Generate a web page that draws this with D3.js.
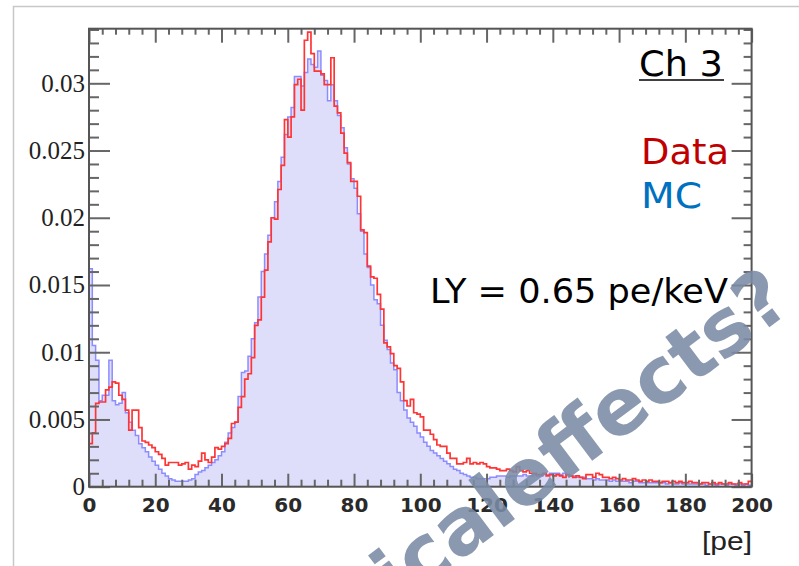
<!DOCTYPE html>
<html>
<head>
<meta charset="utf-8">
<script src="https://cdn.jsdelivr.net/npm/d3@7/dist/d3.min.js"></script>
<style>
body { margin: 0; background: #fff; }
</style>
</head>
<body>
<script>
// 1 pe wide bins from 0 to 200 pe
const dataValues = [
  0.0032,0.0040,0.0062,0.0063,0.0063,0.0072,0.0074,0.0078,0.0077,0.0068,
  0.0065,0.0057,0.0042,0.0057,0.0057,0.0044,0.0034,0.0033,0.0031,0.0029,
  0.0026,0.0024,0.0021,0.0016,0.0018,0.0018,0.0018,0.0016,0.0017,0.0018,
  0.0013,0.0016,0.0015,0.0019,0.0025,0.0020,0.0018,0.0022,0.0029,0.0028,
  0.0030,0.0032,0.0036,0.0047,0.0048,0.0059,0.0067,0.0080,0.0084,0.0096,
  0.0120,0.0124,0.0141,0.0161,0.0182,0.0200,0.0199,0.0221,0.0239,0.0273,
  0.0260,0.0275,0.0299,0.0303,0.0280,0.0332,0.0338,0.0322,0.0309,0.0309,
  0.0307,0.0299,0.0299,0.0319,0.0283,0.0278,0.0263,0.0248,0.0241,0.0227,
  0.0227,0.0216,0.0191,0.0189,0.0164,0.0156,0.0155,0.0143,0.0132,0.0107,
  0.0104,0.0099,0.0090,0.0088,0.0078,0.0064,0.0060,0.0065,0.0055,0.0054,
  0.0052,0.0042,0.0042,0.0039,0.0035,0.0031,0.0030,0.0030,0.0025,0.0021,
  0.0021,0.0017,0.0017,0.0018,0.0021,0.0017,0.0018,0.0017,0.0018,0.0017,
  0.0015,0.0014,0.0014,0.0013,0.0012,0.0012,0.0013,0.0012,0.0011,0.0015,
  0.0012,0.0011,0.0012,0.0010,0.0010,0.0009,0.0009,0.0010,0.0008,0.0009,
  0.0008,0.0009,0.0008,0.0007,0.0009,0.0008,0.0007,0.0008,0.0007,0.0006,
  0.0009,0.0009,0.0007,0.0010,0.0009,0.0007,0.0007,0.0006,0.0007,0.0006,
  0.0005,0.0006,0.0005,0.0005,0.0006,0.0005,0.0004,0.0005,0.0004,0.0005,
  0.0004,0.0004,0.0003,0.0004,0.0004,0.0003,0.0004,0.0003,0.0004,0.0003,
  0.0003,0.0004,0.0003,0.0003,0.0002,0.0003,0.0003,0.0002,0.0003,0.0002,
  0.0003,0.0002,0.0002,0.0003,0.0002,0.0002,0.0003,0.0002,0.0002,0.0004
];

const mcValues = [
  0.0162,0.0105,0.0094,0.0064,0.0068,0.0068,0.0094,0.0064,0.0061,0.0062,
  0.0070,0.0055,0.0048,0.0042,0.0038,0.0032,0.0029,0.0026,0.0022,0.0019,
  0.0016,0.0013,0.0010,0.0008,0.0006,0.0005,0.0004,0.0004,0.0004,0.0004,
  0.0005,0.0006,0.0009,0.0011,0.0012,0.0014,0.0016,0.0018,0.0020,0.0023,
  0.0026,0.0033,0.0040,0.0044,0.0048,0.0067,0.0085,0.0086,0.0097,0.0110,
  0.0122,0.0141,0.0160,0.0173,0.0187,0.0200,0.0212,0.0227,0.0245,0.0262,
  0.0275,0.0282,0.0305,0.0305,0.0298,0.0308,0.0318,0.0314,0.0312,0.0324,
  0.0306,0.0302,0.0287,0.0299,0.0287,0.0276,0.0267,0.0252,0.0240,0.0229,
  0.0222,0.0203,0.0190,0.0173,0.0163,0.0150,0.0139,0.0136,0.0120,0.0109,
  0.0102,0.0092,0.0087,0.0070,0.0064,0.0057,0.0051,0.0048,0.0045,0.0040,
  0.0037,0.0033,0.0030,0.0027,0.0025,0.0023,0.0021,0.0019,0.0017,0.0015,
  0.0013,0.0012,0.0010,0.0009,0.0008,0.0007,0.0007,0.0006,0.0006,0.0006,
  0.0006,0.0007,0.0007,0.0008,0.0008,0.0008,0.0007,0.0008,0.0008,0.0008,
  0.0008,0.0009,0.0008,0.0008,0.0009,0.0008,0.0008,0.0009,0.0009,0.0010,
  0.0010,0.0010,0.0009,0.0010,0.0009,0.0008,0.0008,0.0007,0.0007,0.0007,
  0.0006,0.0006,0.0005,0.0006,0.0005,0.0005,0.0005,0.0004,0.0005,0.0004,
  0.0004,0.0004,0.0004,0.0003,0.0004,0.0004,0.0003,0.0003,0.0003,0.0003,
  0.0003,0.0003,0.0003,0.0003,0.0002,0.0003,0.0002,0.0002,0.0003,0.0002,
  0.0002,0.0002,0.0002,0.0002,0.0002,0.0002,0.0001,0.0002,0.0002,0.0001,
  0.0002,0.0002,0.0001,0.0002,0.0002,0.0001,0.0002,0.0001,0.0002,0.0001
];

const xTicks = [0, 20, 40, 60, 80, 100, 120, 140, 160, 180, 200];
const yTicks = [0, 0.005, 0.01, 0.015, 0.02, 0.025, 0.03];
const yTickLabels = ['0', '0.005', '0.01', '0.015', '0.02', '0.025', '0.03'];

const svgValues = {
    width: 799,
    height: 566,
    plot: { left: 89, right: 751.6, top: 28.7, bottom: 486.7 }
};

const svg = d3.select('body')
    .append('svg')
    .attr('width', svgValues.width)
    .attr('height', svgValues.height);

// slide frame lines
svg.append('path')
    .attr('d', 'M13.5,566 V6.5 H799')
    .attr('fill', 'none')
    .attr('stroke', '#c8c8c8')
    .attr('stroke-width', 1.5);

const p = svgValues.plot;

const xScale = d3.scaleLinear().domain([0, 200]).range([p.left, p.right]);
const yScale = d3.scaleLinear().domain([0, 0.03406]).range([p.bottom, p.top]);

function stepPoints(values) {
    const pts = values.map((v, i) => [i, v]);
    pts.push([values.length, values[values.length - 1]]);
    return pts;
}

const mcArea = d3.area()
    .x(d => xScale(d[0]))
    .y0(yScale(0))
    .y1(d => yScale(d[1]))
    .curve(d3.curveStepAfter);

const stepLine = d3.line()
    .x(d => xScale(d[0]))
    .y(d => yScale(d[1]))
    .curve(d3.curveStepAfter);

svg.append('path') // MC fill
    .attr('d', mcArea(stepPoints(mcValues)))
    .attr('fill', '#dedefa');

svg.append('path') // MC outline
    .attr('d', stepLine(stepPoints(mcValues)))
    .attr('fill', 'none')
    .attr('stroke', '#8c8cff')
    .attr('stroke-width', 1.5);

svg.append('path') // data
    .attr('d', stepLine(stepPoints(dataValues)))
    .attr('fill', 'none')
    .attr('stroke', '#ff3535')
    .attr('stroke-width', 1.7);

// axes, ticks inside the frame like ROOT
const xMinor = d3.range(0, 201, 4).filter(d => d % 20 !== 0);
const yMinor = d3.range(0, 35).map(i => i / 1000).filter(d => Math.round(d * 1000) % 5 !== 0);

function styleAxis(g) {
    g.select('.domain').remove();
    g.selectAll('line').attr('stroke', '#666').attr('stroke-width', 2);
}

svg.append('g')
    .attr('transform', 'translate(0,' + p.bottom + ')')
    .call(d3.axisBottom(xScale).tickValues(xTicks).tickSize(-13).tickPadding(11))
    .call(styleAxis)
    .selectAll('text')
    .attr('font-family', 'DejaVu Sans')
    .attr('font-weight', 'bold')
    .attr('font-size', 20)
    .attr('fill', '#2a2a2a');

svg.append('g')
    .attr('transform', 'translate(0,' + p.bottom + ')')
    .call(d3.axisBottom(xScale).tickValues(xMinor).tickSize(-7).tickFormat(''))
    .call(styleAxis);

svg.append('g')
    .attr('transform', 'translate(0,' + p.top + ')')
    .call(d3.axisTop(xScale).tickValues(xTicks).tickSize(-14).tickFormat(''))
    .call(styleAxis);

svg.append('g')
    .attr('transform', 'translate(0,' + p.top + ')')
    .call(d3.axisTop(xScale).tickValues(xMinor).tickSize(-6).tickFormat(''))
    .call(styleAxis);

svg.append('g')
    .attr('transform', 'translate(' + p.left + ',0)')
    .call(d3.axisLeft(yScale).tickValues(yTicks).tickSize(-21).tickPadding(4)
        .tickFormat((d, i) => yTickLabels[i]))
    .call(styleAxis)
    .selectAll('text')
    .attr('font-family', 'Liberation Serif')
    .attr('font-size', 25)
    .attr('fill', '#222');

svg.append('g')
    .attr('transform', 'translate(' + p.left + ',0)')
    .call(d3.axisLeft(yScale).tickValues(yMinor).tickSize(-10).tickFormat(''))
    .call(styleAxis);

svg.append('g')
    .attr('transform', 'translate(' + p.right + ',0)')
    .call(d3.axisRight(yScale).tickValues(yTicks).tickSize(-20).tickFormat(''))
    .call(styleAxis);

svg.append('g')
    .attr('transform', 'translate(' + p.right + ',0)')
    .call(d3.axisRight(yScale).tickValues(yMinor).tickSize(-8).tickFormat(''))
    .call(styleAxis);

svg.append('rect') // frame
    .attr('x', p.left)
    .attr('y', p.top)
    .attr('width', p.right - p.left)
    .attr('height', p.bottom - p.top)
    .attr('fill', 'none')
    .attr('stroke', '#555')
    .attr('stroke-width', 2);

svg.append('text') // x title
    .text('[pe]')
    .attr('x', 752)
    .attr('y', 550)
    .attr('text-anchor', 'end')
    .attr('textLength', 50)
    .attr('lengthAdjust', 'spacingAndGlyphs')
    .attr('font-family', 'Liberation Sans')
    .attr('font-size', 26)
    .attr('fill', '#222');

// annotations
function note(txt, x, y, w, color) {
    return svg.append('text')
        .text(txt)
        .attr('x', x)
        .attr('y', y)
        .attr('textLength', w)
        .attr('lengthAdjust', 'spacingAndGlyphs')
        .attr('font-family', 'DejaVu Sans')
        .attr('font-size', 36)
        .attr('fill', color);
}

note('Ch 3', 639, 76, 84, '#000');
svg.append('line')
    .attr('x1', 639).attr('x2', 724)
    .attr('y1', 80).attr('y2', 80)
    .attr('stroke', '#000')
    .attr('stroke-width', 1.5);
note('Data', 641, 164, 88, '#c00000');
note('MC', 641, 208, 61, '#0070c0');
note('LY = 0.65 pe/keV', 430, 303, 298, '#000').attr('font-size', 33);

// watermark
svg.append('text')
    .text('physicaleffects?')
    .attr('transform', 'translate(795,308) rotate(-37)')
    .attr('text-anchor', 'end')
    .attr('font-family', 'DejaVu Sans')
    .attr('font-weight', 'bold')
    .attr('font-size', 78)
    .attr('fill', '#7a8ca6')
    .attr('opacity', 0.88);
</script>
</body>
</html>
